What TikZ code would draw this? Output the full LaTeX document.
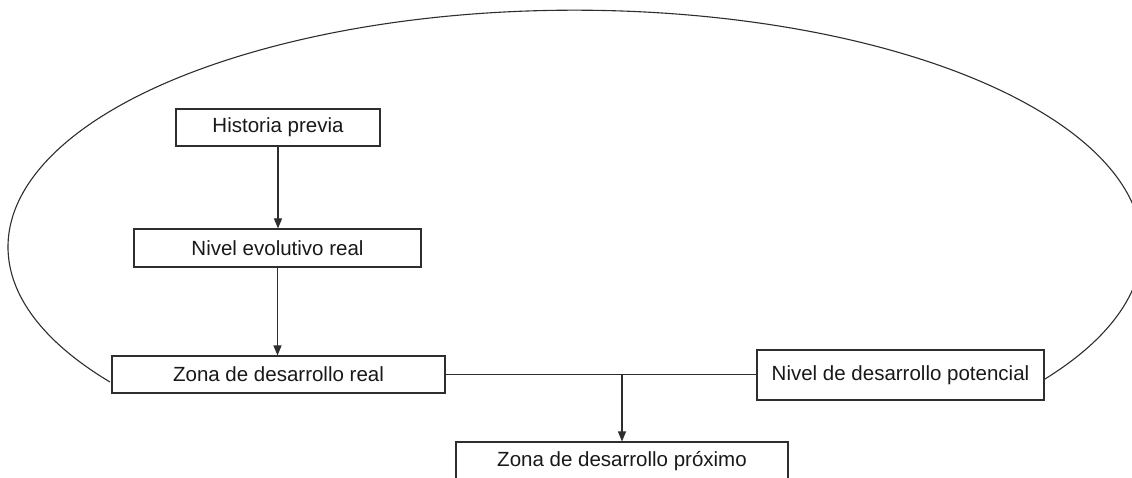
\documentclass[tikz,border=0pt]{standalone}
\usepackage{fontspec}
\setmainfont{Liberation Sans}
\usetikzlibrary{arrows.meta}
\definecolor{lc}{HTML}{2E2E2E}
\begin{document}
\begin{tikzpicture}[x=1pt,y=-1pt,
  box/.style={draw=lc, line width=1.1pt, fill=white, minimum height=37pt, inner sep=0pt,
    font=\fontsize{20.5}{24}\selectfont, text=black!90},
  conn/.style={draw=lc, line width=1.1pt},
  arr/.style={conn, -{Triangle[width=8pt,length=10pt]}}]
\useasboundingbox[fill=white] (0,0) rectangle (1132,478);
\coordinate (arcL) at (110,382);
\draw[conn] (arcL) arc[start angle=145.1, end angle=394.2, x radius=567, y radius=236.5];
\node[box, minimum width=204pt] (hp) at (278,127.5) {Historia previa};
\node[box, minimum width=287pt, minimum height=38pt] (ner) at (277.5,248) {Nivel evolutivo real};
\node[box, minimum width=333pt] (zdr) at (278.5,374.5) {Zona de desarrollo real};
\node[box, minimum width=287pt, minimum height=50pt] (ndp) at (900.5,375) {Nivel de desarrollo potencial};
\node[box, minimum width=332pt, minimum height=38pt] (zdp) at (622,461) {Zona de desarrollo próximo};
\draw[arr] (hp.south) -- (hp.south |- ner.north);
\draw[arr] (ner.south) -- (ner.south |- zdr.north);
\draw[conn] (zdr.east) -- (zdr.east -| ndp.west);
\coordinate (j) at (zdp.north |- zdr.east);
\draw[arr] (j) -- (zdp.north);
\end{tikzpicture}
\end{document}
